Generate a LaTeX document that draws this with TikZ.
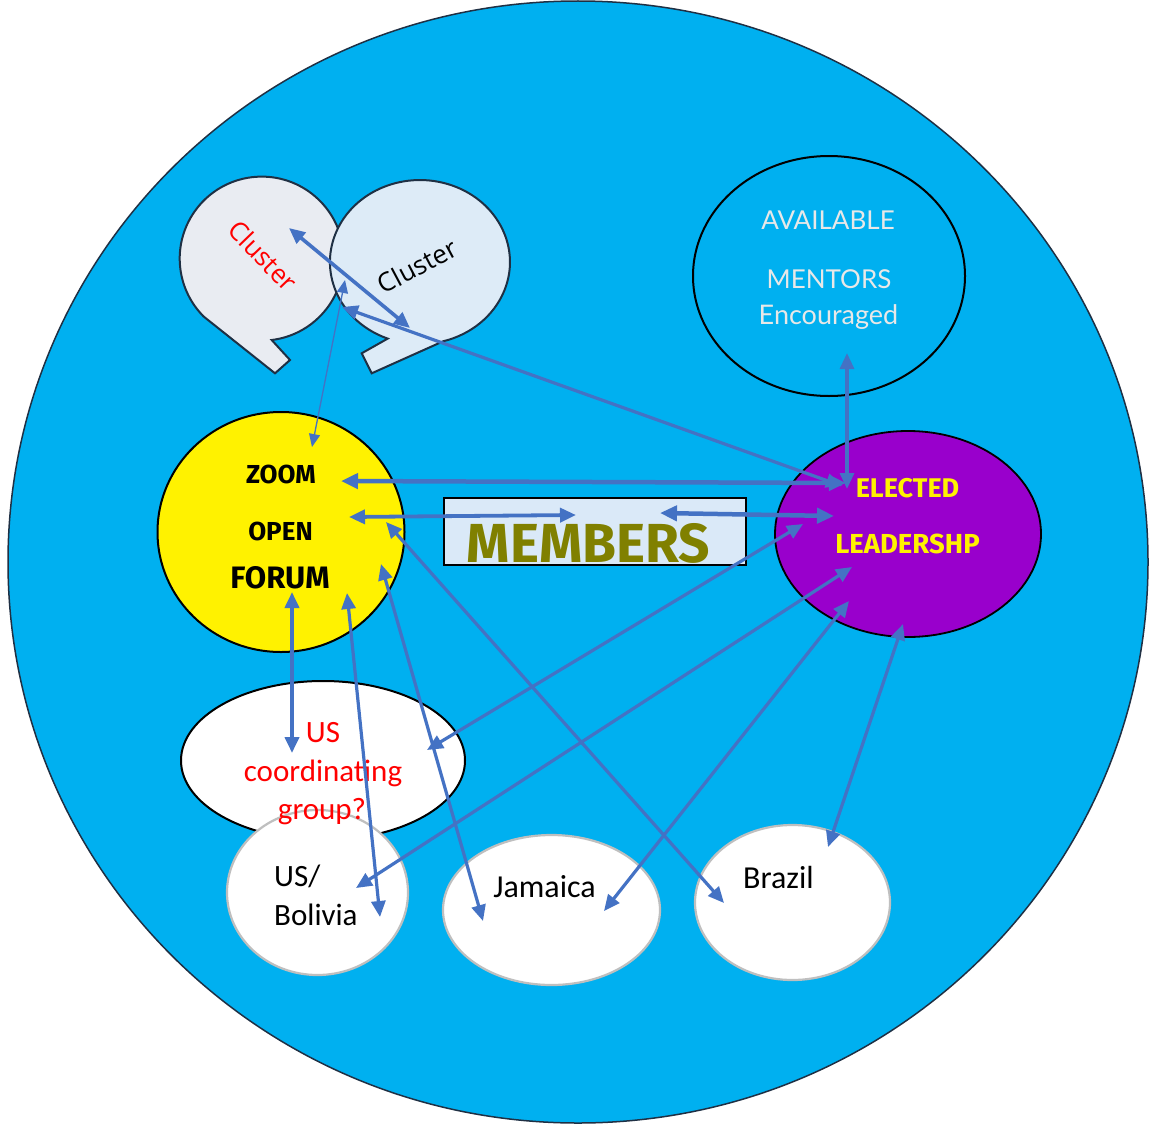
\documentclass[tikz,border=0pt]{standalone}
\usepackage{fontspec}
\setmainfont{Open Sans}
\newfontfamily\carl{Carlito}
\newfontfamily\fira{Fira Sans}
\newfontfamily\lato{Lato}
\usetikzlibrary{arrows.meta,shapes.geometric}
\definecolor{bgcyan}{HTML}{00B0F0}
\definecolor{navy}{HTML}{1F3044}
\definecolor{arrowblue}{HTML}{4472C4}
\definecolor{lgray}{HTML}{E9ECF2}
\definecolor{lblue}{HTML}{DDEBF7}
\definecolor{memfill}{HTML}{DAE9F8}
\definecolor{purp}{HTML}{9900CC}
\definecolor{olive}{HTML}{808000}
\definecolor{mentortxt}{HTML}{E8E8E8}
\definecolor{cgray}{HTML}{BFBFBF}
\newcommand\fsz[1]{\fontsize{#1}{#1}\selectfont}
\begin{document}
\begin{tikzpicture}[x=1pt,y=-1pt,
  >={Triangle[length=16pt,width=14pt]},
  link/.style={draw=arrowblue,line width=3.2pt,<->},
  thicklink/.style={draw=arrowblue,line width=4.5pt,<->,>={Triangle[length=17pt,width=15pt]}},
  thinlink/.style={draw=arrowblue,line width=1.3pt,<->,>={Triangle[length=13pt,width=11pt]}},
  country/.style={ellipse,draw=cgray,line width=2.2pt,fill=white,inner sep=0},
  oval/.style={ellipse,draw=black,line width=2pt,inner sep=0},
  lbl/.style={anchor=base,inner sep=0},
  bubble/.style={draw=navy,line width=2pt}]
\useasboundingbox (0,0) rectangle (1151,1124);
\node[ellipse,draw=navy,line width=1.5pt,fill=bgcyan,minimum width=1140pt,minimum height=1122pt,inner sep=0,outer sep=0] (world) at (578,562) {};

% cluster bubbles
\filldraw[bubble,fill=lgray] (271.7,340) arc[start angle=83,end angle=-225,radius=82] -- (275,373.3) -- (290,360) -- cycle;
\filldraw[bubble,fill=lblue] (387.7,338.6) arc[start angle=111,end angle=435,x radius=90,y radius=82] -- (371.7,373.3) -- (361.7,353.3) -- cycle;
\node[inner sep=0,rotate=-46,text=red] (cluster1) at (263,256) {\fsz{26}Cluster};
\node[inner sep=0,rotate=28] (cluster2) at (417,266) {\fsz{26}Cluster};

% main nodes
\node[oval,minimum width=272pt,minimum height=240pt] (mentors) at (829,276) {};
\node[oval,fill=yellow,minimum width=247pt,minimum height=240pt] (forum) at (281,532) {};
\node[draw=black,line width=2.2pt,fill=memfill,minimum width=302pt,minimum height=67pt,inner sep=0] (members) at (595,531.5) {};
\node[oval,line width=1.8pt,fill=purp,minimum width=266pt,minimum height=206pt] (elected) at (908,534) {};
\node[oval,fill=white,minimum width=284pt,minimum height=159pt] (uscoord) at (323,760.5) {};
\node[country,minimum width=181pt,minimum height=165pt] (bolivia) at (317.5,892.5) {};
\node[country,minimum width=217pt,minimum height=150pt] (jamaica) at (551.5,910) {};
\node[country,minimum width=195pt,minimum height=155pt] (brazil) at (792.5,902.5) {};

% texts
\node[lbl,text=mentortxt] (t-avail) at (828,229) {\lato\fsz{26}AVAILABLE};
\node[lbl,text=mentortxt] (t-ment) at (829,288) {\lato\fsz{26}MENTORS};
\node[lbl,text=mentortxt] (t-enc) at (828.5,324) {\lato\fsz{27}Encouraged};
\node[lbl] (t-zoom) at (281,483) {\fira\bfseries\fsz{26}ZOOM};
\node[lbl] (t-open) at (280.5,540) {\fira\bfseries\fsz{26}OPEN};
\node[lbl] (t-forum) at (280,588) {\fira\bfseries\fsz{31}FORUM};
\node[lbl,text=olive] (t-members) at (588.5,562) {\fira\bfseries\fsz{55}MEMBERS};
\node[lbl,text=yellow] (t-elected) at (907.5,497) {\fira\bfseries\fsz{27}ELECTED};
\node[lbl,text=yellow] (t-leader) at (907.5,553) {\fira\bfseries\fsz{27.5}LEADERSHP};
\node[lbl,text=red] (t-us) at (323,742) {\carl\fsz{31}US};
\node[lbl,text=red] (t-coord) at (323,781) {\carl\fsz{31}coordinating};
\node[lbl,text=red] (t-group) at (322,819) {\carl\fsz{31}group?};
\node[lbl,anchor=base west] (t-usb) at (274,886) {\carl\fsz{31}US/};
\node[lbl,anchor=base west] (t-bol) at (274,925) {\carl\fsz{31}Bolivia};
\node[lbl] (t-jam) at (544.5,897) {\carl\fsz{32}Jamaica};
\node[lbl] (t-bra) at (778.5,888) {\carl\fsz{32}Brazil};

% arrow end points
\coordinate (ca1) at (289,228);
\coordinate (ca2) at (410,328);
\coordinate (cb1) at (342,307);
\coordinate (cc1) at (345,280);
\coordinate (z1) at (312,447);
\coordinate (z2) at (341,481);
\coordinate (o1) at (349,517);
\coordinate (o2) at (386,522);
\coordinate (f1) at (292,592);
\coordinate (f2) at (347,593);
\coordinate (f3) at (381,564);
\coordinate (m1) at (576,515);
\coordinate (m2) at (660,513);
\coordinate (mt1) at (847,353);
\coordinate (e1) at (842,486);
\coordinate (e2) at (846,483);
\coordinate (e3) at (834,516);
\coordinate (e4) at (847,489);
\coordinate (e5) at (803,524);
\coordinate (e6) at (852,567);
\coordinate (e7) at (849,601);
\coordinate (e8) at (903,624);
\coordinate (u1) at (292,753);
\coordinate (u2) at (427,750);
\coordinate (b1) at (380,917);
\coordinate (b2) at (356,888);
\coordinate (j1) at (483,921);
\coordinate (j2) at (604,911);
\coordinate (br1) at (724,903);
\coordinate (br2) at (828,847);

% connectors
\draw[link,line width=3.6pt] (ca1) -- (ca2);
\draw[link] (cb1) -- (e1);
\draw[thinlink] (cc1) -- (z1);
\draw[thicklink] (z2) -- (e2);
\draw[link,line width=3.8pt] (o1) -- (m1);
\draw[thicklink] (m2) -- (e3);
\draw[link] (mt1) -- (e4);
\draw[link,line width=3.8pt] (f1) -- (u1);
\draw[link] (f2) -- (b1);
\draw[link] (f3) -- (j1);
\draw[link] (o2) -- (br1);
\draw[link] (e5) -- (u2);
\draw[link] (e6) -- (b2);
\draw[link] (e7) -- (j2);
\draw[link] (e8) -- (br2);
\end{tikzpicture}
\end{document}
